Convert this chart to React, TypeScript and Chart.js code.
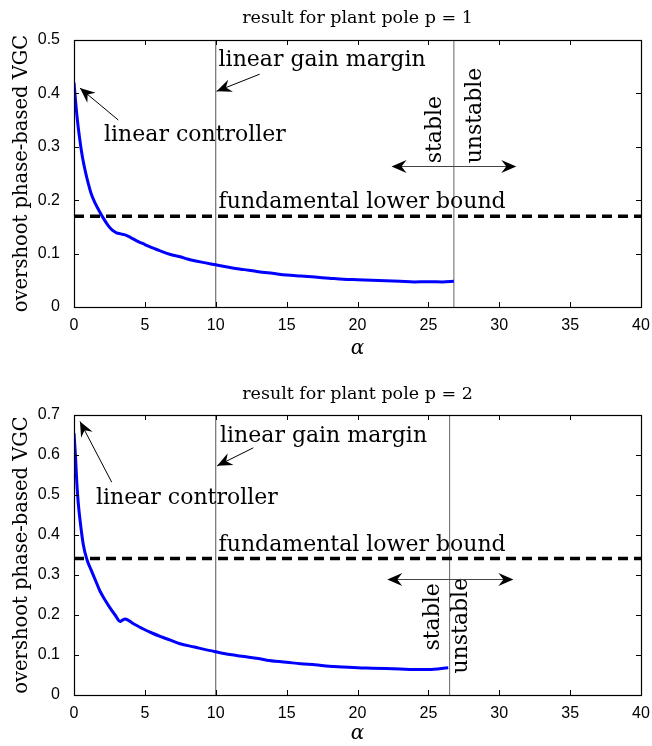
import React, { useEffect, useRef } from 'react';
import { Chart, registerables } from 'chart.js';

Chart.register(...registerables);

// ---------- data ----------
const xTicks = [0, 5, 10, 15, 20, 25, 30, 35, 40];
const yTicksTop = [0, 0.1, 0.2, 0.3, 0.4, 0.5];
const yTicksBottom = [0, 0.1, 0.2, 0.3, 0.4, 0.5, 0.6, 0.7];

const alphaTop = [0, 0.2, 0.4, 0.6, 0.8, 1.0, 1.2, 1.5, 1.8, 2.1, 2.4, 2.7, 3.0, 3.3, 3.6, 4.0, 4.5, 5, 5.5, 6, 6.5, 7, 7.5, 8, 9, 10, 11, 12, 13, 14, 15, 16, 17, 18, 19, 20, 21, 22, 23, 24, 25, 26, 26.8];
const overshootTop = [0.42, 0.36, 0.315, 0.28, 0.254, 0.232, 0.213, 0.194, 0.179, 0.165, 0.153, 0.144, 0.139, 0.137, 0.135, 0.13, 0.123, 0.117, 0.111, 0.106, 0.101, 0.097, 0.094, 0.09, 0.084, 0.079, 0.074, 0.07, 0.066, 0.063, 0.06, 0.058, 0.056, 0.054, 0.052, 0.051, 0.05, 0.049, 0.048, 0.047, 0.0475, 0.047, 0.048];

const alphaBottom = [0, 0.1, 0.2, 0.3, 0.45, 0.66, 0.9, 1.25, 1.5, 1.83, 2.2, 2.54, 2.9, 3.25, 3.45, 3.6, 4.2, 4.89, 5.5, 6.2, 6.8, 7.48, 8.5, 9.2, 10, 11, 12, 13, 13.6, 15, 16, 17, 18, 19, 20, 21, 22, 23, 24, 25, 26.4];
const overshootBottom = [0.655, 0.6, 0.53, 0.48, 0.43, 0.375, 0.34, 0.309, 0.288, 0.26, 0.237, 0.218, 0.2, 0.184, 0.188, 0.19, 0.178, 0.165, 0.155, 0.145, 0.137, 0.128, 0.12, 0.114, 0.108, 0.101, 0.096, 0.091, 0.087, 0.082, 0.078, 0.0755, 0.072, 0.07, 0.068, 0.067, 0.066, 0.065, 0.064, 0.064, 0.068];

const lowerBoundTop = 0.17;
const lowerBoundBottom = 0.341;
const gainMarginAlpha = 10;
const stabilityLimitTop = 26.8;
const stabilityLimitBottom = 26.5;

const titleTop = 'result for plant pole p = 1';
const titleBottom = 'result for plant pole p = 2';
const yLabel = 'overshoot phase-based VGC';
const xLabel = 'α';

// ---------- annotations (data coordinates) ----------
type TextAnn = { text: string; x: number; y: number; rot?: number };
type ArrowAnn = { from: [number, number]; to: [number, number] };
type DoubleArrowAnn = { x1: number; x2: number; y: number };

const textsTop: TextAnn[] = [
  { text: 'linear gain margin', x: 10.2, y: 0.462 },
  { text: 'linear controller', x: 2.12, y: 0.322 },
  { text: 'fundamental lower bound', x: 10.2, y: 0.196 },
  { text: 'stable', x: 25.5, y: 0.269, rot: -90 },
  { text: 'unstable', x: 28.3, y: 0.269, rot: -90 },
];
const arrowsTop: ArrowAnn[] = [
  { from: [13.1, 0.436], to: [10.06, 0.404] },
  { from: [3.13, 0.35], to: [0.42, 0.41] },
];
const doubleTop: DoubleArrowAnn = { x1: 22.4, x2: 31.2, y: 0.2635 };

const textsBottom: TextAnn[] = [
  { text: 'linear gain margin', x: 10.3, y: 0.647 },
  { text: 'linear controller', x: 1.55, y: 0.492 },
  { text: 'fundamental lower bound', x: 10.2, y: 0.375 },
  { text: 'stable', x: 25.35, y: 0.111, rot: -90 },
  { text: 'unstable', x: 27.35, y: 0.0536, rot: -90 },
];
const arrowsBottom: ArrowAnn[] = [
  { from: [12.65, 0.618], to: [10.1, 0.573] },
  { from: [2.66, 0.532], to: [0.42, 0.684] },
];
const doubleBottom: DoubleArrowAnn = { x1: 22.1, x2: 31.0, y: 0.291 };

const SERIF = '"DejaVu Serif", "Liberation Serif", serif';
const SANS = '"Liberation Sans", Arial, sans-serif';

function arrowHead(ctx: CanvasRenderingContext2D, tx: number, ty: number, fx: number, fy: number) {
  const ang = Math.atan2(ty - fy, tx - fx);
  const L = 15, W = 6.5, N = 5;
  ctx.save();
  ctx.translate(tx, ty);
  ctx.rotate(ang);
  ctx.beginPath();
  ctx.moveTo(0, 0);
  ctx.lineTo(-L, -W);
  ctx.lineTo(-L + N, 0);
  ctx.lineTo(-L, W);
  ctx.closePath();
  ctx.fill();
  ctx.restore();
}

type PanelCfg = {
  top: number;
  height: number;
  titleText: string;
  titlePad: { top: number; bottom: number };
  xAxisHeight: number;
  xTitlePadBottom: number;
  yMax: number;
  yTicks: number[];
  alpha: number[];
  values: number[];
  lowerBound: number;
  stability: number;
  texts: TextAnn[];
  arrows: ArrowAnn[];
  dbl: DoubleArrowAnn;
};

function Panel({ cfg }: { cfg: PanelCfg }) {
  const ref = useRef<HTMLCanvasElement>(null);
  useEffect(() => {
    const annotate = {
      id: 'annotate',
      afterDraw(chart: any) {
        const ctx: CanvasRenderingContext2D = chart.ctx;
        const xs = chart.scales.x;
        const ys = chart.scales.y;
        const { left, right, top, bottom } = chart.chartArea;
        ctx.save();
        // frame
        ctx.strokeStyle = '#000';
        ctx.lineWidth = 1.2;
        ctx.strokeRect(Math.round(left) + 0.5, Math.round(top) + 0.5, Math.round(right - left), Math.round(bottom - top));
        // inward ticks
        ctx.lineWidth = 1;
        ctx.beginPath();
        xTicks.forEach((t) => {
          const px = Math.round(xs.getPixelForValue(t)) + 0.5;
          ctx.moveTo(px, bottom);
          ctx.lineTo(px, bottom - 5);
          ctx.moveTo(px, top);
          ctx.lineTo(px, top + 5);
        });
        cfg.yTicks.forEach((t) => {
          const py = Math.round(ys.getPixelForValue(t)) + 0.5;
          ctx.moveTo(left, py);
          ctx.lineTo(left + 5, py);
          ctx.moveTo(right, py);
          ctx.lineTo(right - 5, py);
        });
        ctx.stroke();
        // texts
        ctx.fillStyle = '#000';
        ctx.font = `22px ${SERIF}`;
        ctx.textBaseline = 'middle';
        ctx.textAlign = 'left';
        cfg.texts.forEach((t) => {
          const px = xs.getPixelForValue(t.x);
          const py = ys.getPixelForValue(t.y);
          ctx.save();
          ctx.translate(px, py);
          if (t.rot) ctx.rotate((t.rot * Math.PI) / 180);
          ctx.fillText(t.text, 0, 0);
          ctx.restore();
        });
        // arrows
        ctx.strokeStyle = '#000';
        ctx.lineWidth = 1;
        cfg.arrows.forEach((a) => {
          const fx = xs.getPixelForValue(a.from[0]);
          const fy = ys.getPixelForValue(a.from[1]);
          const tx = xs.getPixelForValue(a.to[0]);
          const ty = ys.getPixelForValue(a.to[1]);
          ctx.beginPath();
          ctx.moveTo(fx, fy);
          ctx.lineTo(tx, ty);
          ctx.stroke();
          arrowHead(ctx, tx, ty, fx, fy);
        });
        // double arrow
        const x1 = xs.getPixelForValue(cfg.dbl.x1);
        const x2 = xs.getPixelForValue(cfg.dbl.x2);
        const dy = Math.round(ys.getPixelForValue(cfg.dbl.y)) + 0.5;
        ctx.strokeStyle = '#444';
        ctx.beginPath();
        ctx.moveTo(x1 + 5, dy);
        ctx.lineTo(x2 - 5, dy);
        ctx.stroke();
        arrowHead(ctx, x1, dy, x2, dy);
        arrowHead(ctx, x2, dy, x1, dy);
        ctx.restore();
      },
    };

    const chart = new Chart(ref.current!, {
      type: 'line',
      data: {
        datasets: [
          {
            label: 'overshoot',
            data: cfg.alpha.map((a, i) => ({ x: a, y: cfg.values[i] })),
            borderColor: '#0000ff',
            borderWidth: 3,
            pointRadius: 0,
            cubicInterpolationMode: 'monotone',
          },
          {
            label: 'fundamental lower bound',
            data: [
              { x: 0, y: cfg.lowerBound },
              { x: 40, y: cfg.lowerBound },
            ],
            borderColor: '#000',
            borderWidth: 3.5,
            borderDash: [10, 6],
            pointRadius: 0,
          },
          {
            label: 'linear gain margin',
            data: [
              { x: gainMarginAlpha, y: 0 },
              { x: gainMarginAlpha, y: cfg.yMax },
            ],
            borderColor: '#555',
            borderWidth: 1,
            pointRadius: 0,
          },
          {
            label: 'stability limit',
            data: [
              { x: cfg.stability, y: 0 },
              { x: cfg.stability, y: cfg.yMax },
            ],
            borderColor: '#666',
            borderWidth: 1,
            pointRadius: 0,
          },
        ],
      },
      options: {
        responsive: false,
        animation: false,
        devicePixelRatio: 1,
        layout: { padding: { left: 0, right: 11, top: 0, bottom: 0 } },
        plugins: {
          legend: { display: false },
          tooltip: { enabled: false },
          title: {
            display: true,
            text: cfg.titleText,
            fullSize: false,
            color: '#000',
            font: { family: SERIF, size: 17.5, weight: 'normal', lineHeight: 1.2 },
            padding: cfg.titlePad,
          },
        },
        scales: {
          x: {
            type: 'linear',
            min: 0,
            max: 40,
            afterBuildTicks: (s: any) => {
              s.ticks = xTicks.map((v) => ({ value: v }));
            },
            afterFit: (s: any) => {
              s.height = cfg.xAxisHeight;
              s.paddingLeft = 0;
              s.paddingRight = 0;
            },
            grid: { display: false },
            border: { display: false },
            ticks: {
              color: '#000',
              font: { family: SANS, size: 16 },
              padding: 1,
              maxRotation: 0,
              autoSkip: false,
            },
            title: {
              display: true,
              text: xLabel,
              color: '#000',
              font: { family: SERIF, size: 20, style: 'italic', lineHeight: 1.2 },
              padding: { top: 0, bottom: cfg.xTitlePadBottom },
            },
          },
          y: {
            type: 'linear',
            min: 0,
            max: cfg.yMax,
            afterBuildTicks: (s: any) => {
              s.ticks = cfg.yTicks.map((v) => ({ value: v }));
            },
            afterFit: (s: any) => {
              s.width = 74;
            },
            grid: { display: false },
            border: { display: false },
            ticks: {
              color: '#000',
              font: { family: SANS, size: 16 },
              padding: 6,
              autoSkip: false,
            },
            title: {
              display: true,
              text: yLabel,
              color: '#000',
              font: { family: SERIF, size: 19.5, lineHeight: 1.2 },
              padding: { top: 10, bottom: 0 },
            },
          },
        },
      },
      plugins: [annotate],
    } as any);
    return () => chart.destroy();
  }, [cfg]);

  return (
    <div style={{ position: 'absolute', left: 0, top: cfg.top, width: 652, height: cfg.height }}>
      <canvas ref={ref} width={652} height={cfg.height} style={{ display: 'block' }} />
    </div>
  );
}

const topCfg: PanelCfg = {
  top: 0,
  height: 372,
  titleText: titleTop,
  titlePad: { top: 8, bottom: 11 },
  xAxisHeight: 65,
  xTitlePadBottom: 11,
  yMax: 0.5,
  yTicks: yTicksTop,
  alpha: alphaTop,
  values: overshootTop,
  lowerBound: lowerBoundTop,
  stability: stabilityLimitTop,
  texts: textsTop,
  arrows: arrowsTop,
  dbl: doubleTop,
};

const bottomCfg: PanelCfg = {
  top: 372,
  height: 374,
  titleText: titleBottom,
  titlePad: { top: 12, bottom: 10 },
  xAxisHeight: 51,
  xTitlePadBottom: 0,
  yMax: 0.7,
  yTicks: yTicksBottom,
  alpha: alphaBottom,
  values: overshootBottom,
  lowerBound: lowerBoundBottom,
  stability: stabilityLimitBottom,
  texts: textsBottom,
  arrows: arrowsBottom,
  dbl: doubleBottom,
};

export default function App() {
  return (
    <div style={{ position: 'absolute', left: 0, top: 0, width: 652, height: 746, background: '#fff' }}>
      <Panel cfg={topCfg} />
      <Panel cfg={bottomCfg} />
    </div>
  );
}
